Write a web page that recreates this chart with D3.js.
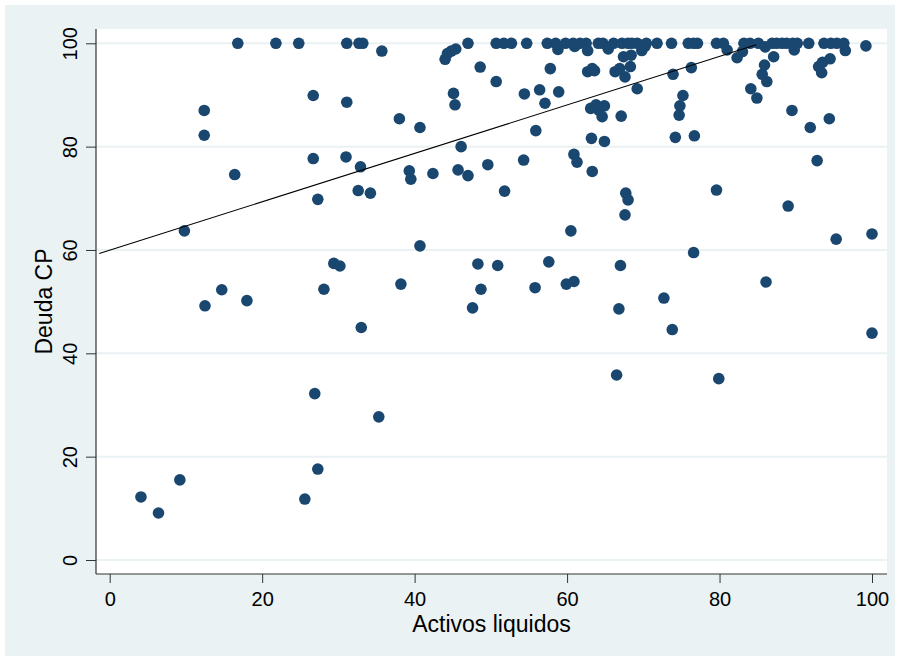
<!DOCTYPE html>
<html>
<head>
<meta charset="utf-8">
<script src="https://cdn.jsdelivr.net/npm/d3@7"></script>
<style>
  body { margin: 0; background: #ffffff; }
  text { font-family: "Liberation Sans", Arial, sans-serif; fill: #000; }
</style>
</head>
<body>
<div id="chart"></div>
<script>
// Activos liquidos (x) / Deuda CP (y)
var activos = [
      // y = 100 row
      16.8, 21.8, 24.8, 31.1, 32.7, 33.2, 47.0, 50.7, 51.7, 52.7, 54.7, 57.4, 58.5, 59.8, 60.8,
      61.7, 62.5, 64.1, 64.7, 66.1, 67.2, 68.0, 68.5, 69.2, 70.4, 71.8, 73.7, 75.9, 76.6, 77.1,
      79.6, 80.5, 83.2, 84.0, 85.1, 86.9, 87.5, 88.2, 88.8, 89.6, 90.2, 91.7, 93.7, 94.6, 95.4, 96.3,
      // just under the top
      35.7, 44.0, 44.3, 44.8, 45.4, 58.8, 61.0, 62.7, 65.4, 67.4, 68.4, 69.8, 70.2, 81.0, 82.3,
      83.0, 86.0, 87.1, 89.8, 96.5, 99.2,
      // upper middle
      48.6, 50.7, 57.8, 62.7, 63.3, 63.6, 66.3, 66.9, 67.6, 68.3, 69.2, 73.9, 76.3, 75.2, 74.8,
      74.7, 74.2, 76.7, 85.9, 85.6, 86.2, 84.1, 84.9, 89.5, 91.9, 94.4, 93.0, 93.5, 94.5, 93.4,
      92.8, 79.6, 89.0,
      // middle cluster
      45.1, 45.3, 54.4, 56.4, 57.1, 58.9, 55.9, 63.1, 63.8, 64.2, 64.6, 64.9, 67.1, 63.2, 64.9,
      46.1, 38.0, 40.7, 39.3, 39.5, 42.4, 45.7, 47.0, 49.6, 54.3, 51.8, 60.9, 61.3, 63.3, 67.7,
      68.0, 67.6,
      // left side
      26.7, 31.1, 12.4, 12.4, 26.7, 31.0, 32.9, 16.4, 27.3, 32.6, 34.2, 9.8, 29.4, 30.2, 14.7,
      12.5, 18.0, 28.1, 33.0, 26.9,
      // lower middle
      60.5, 40.7, 38.2, 48.3, 50.9, 57.6, 67.0, 48.7, 47.6, 55.8, 59.9, 60.9, 66.8, 66.5,
      // lower right
      95.3, 100, 76.6, 86.1, 72.7, 73.8, 100, 79.9,
      // bottom
      4.1, 6.4, 9.2, 25.6, 27.3, 35.3
];
var deuda = [
      100, 100, 100, 100, 100, 100, 100, 100, 100, 100, 100, 100, 100, 100, 100,
      100, 100, 100, 100, 100, 100, 100, 100, 100, 100, 100, 100, 100, 100, 100,
      100, 100, 100, 100, 100, 100, 100, 100, 100, 100, 100, 100, 100, 100, 100, 100,
      98.5, 96.9, 98.0, 98.5, 98.9, 98.8, 99.4, 98.6, 98.9, 97.4, 97.7, 98.6, 99.4, 98.7, 97.2,
      98.4, 99.3, 97.4, 98.7, 98.6, 99.5,
      95.4, 92.6, 95.1, 94.5, 95.1, 94.7, 94.5, 95.1, 93.5, 95.5, 91.2, 94.0, 95.3, 89.9, 87.9,
      86.1, 81.8, 82.1, 95.8, 94.0, 92.6, 91.2, 89.4, 87.0, 83.7, 85.4, 95.5, 96.3, 97.0, 94.3,
      77.3, 71.6, 68.5,
      90.3, 88.1, 90.2, 91.0, 88.4, 90.6, 83.1, 87.4, 88.1, 87.0, 85.8, 87.9, 85.9, 81.6, 81.0,
      80.0, 85.4, 83.7, 75.3, 73.7, 74.8, 75.5, 74.4, 76.5, 77.4, 71.4, 78.5, 77.0, 75.2, 71.0,
      69.7, 66.8,
      89.9, 88.6, 87.0, 82.2, 77.7, 78.0, 76.1, 74.6, 69.8, 71.5, 71.0, 63.7, 57.4, 56.9, 52.3,
      49.2, 50.2, 52.4, 45.0, 32.2,
      63.7, 60.8, 53.4, 57.3, 57.0, 57.7, 57.0, 52.4, 48.8, 52.7, 53.4, 53.9, 48.6, 35.8,
      62.1, 63.1, 59.5, 53.8, 50.7, 44.6, 43.9, 35.1,
      12.2, 9.1, 15.5, 11.8, 17.6, 27.7
];
// fitted line end points
var fitX = [-1.37, 84.8];
var fitY = [59.3, 99.7];
var xTicks = [0, 20, 40, 60, 80, 100];
var yTicks = [0, 20, 40, 60, 80, 100];

var W = 900, H = 660;
var plot = { left: 96, right: 887, top: 29, bottom: 574 };

var svg = d3.select("#chart")
      .append("svg")
      .attr("width", W)
      .attr("height", H);

// outer region
svg.append("rect")
      .attr("x", 5).attr("y", 5)
      .attr("width", W - 10).attr("height", H - 9)
      .attr("fill", "#eaf2f3");

svg.append("rect")
      .attr("x", plot.left).attr("y", plot.top)
      .attr("width", plot.right - plot.left).attr("height", plot.bottom - plot.top)
      .attr("fill", "#ffffff");

var xScale = d3.scaleLinear()
      .domain([0, 100])
      .range([109.7, 872]);
var yScale = d3.scaleLinear()
      .domain([0, 100])
      .range([560, 43.3]);

// grid lines
svg.selectAll("line.grid")
      .data(yTicks)
      .enter()
      .append("line")
      .attr("class", "grid")
      .attr("x1", plot.left)
      .attr("x2", plot.right)
      .attr("y1", function (d) { return yScale(d); })
      .attr("y2", function (d) { return yScale(d); })
      .attr("stroke", "#eaf2f3")
      .attr("stroke-width", 2);

// x axis
var xAxis = svg.append("g")
      .attr("transform", "translate(0," + plot.bottom + ")")
      .call(d3.axisBottom(xScale).tickValues(xTicks).tickSize(9).tickPadding(9).tickSizeOuter(0));
xAxis.select(".domain").remove();
xAxis.append("line")
      .attr("x1", plot.left).attr("x2", plot.right)
      .attr("stroke", "#333").attr("stroke-width", 1.2);
xAxis.selectAll(".tick line").attr("stroke", "#333");
xAxis.selectAll(".tick text")
      .attr("font-size", 20)
      .attr("font-family", "Liberation Sans, Arial, sans-serif")
      .attr("fill", "#000");

// y axis
var yAxis = svg.append("g")
      .attr("transform", "translate(" + plot.left + ",0)")
      .call(d3.axisLeft(yScale).tickValues(yTicks).tickSize(10).tickSizeOuter(0));
yAxis.select(".domain").remove();
yAxis.append("line")
      .attr("y1", plot.top).attr("y2", plot.bottom)
      .attr("stroke", "#333").attr("stroke-width", 1.2);
yAxis.selectAll(".tick line").attr("stroke", "#333");
yAxis.selectAll(".tick text")
      .attr("font-size", 20)
      .attr("font-family", "Liberation Sans, Arial, sans-serif")
      .attr("fill", "#000")
      .attr("x", null).attr("dy", null)
      .attr("text-anchor", "middle")
      .attr("transform", "translate(-19,0)rotate(-90)");

// axis titles
svg.append("text")
      .attr("x", (plot.left + plot.right) / 2)
      .attr("y", 632)
      .attr("text-anchor", "middle")
      .attr("font-size", 23)
      .text("Activos liquidos");

svg.append("text")
      .attr("transform", "translate(51.5," + (plot.top + plot.bottom) / 2 + ")rotate(-90)")
      .attr("text-anchor", "middle")
      .attr("font-size", 23)
      .text("Deuda CP");

var points = activos.map(function (a, i) { return { x: a, y: deuda[i] }; });

svg.selectAll("circle")
      .data(points)
      .enter()
      .append("circle")
      .attr("cx", function (d) { return xScale(d.x); })
      .attr("cy", function (d) { return yScale(d.y); })
      .attr("r", 5.8)
      .style("fill", "#1a476f");

// fitted line
svg.append("line")
      .attr("x1", xScale(fitX[0]))
      .attr("y1", yScale(fitY[0]))
      .attr("x2", xScale(fitX[1]))
      .attr("y2", yScale(fitY[1]))
      .attr("stroke", "#000")
      .attr("stroke-width", 1.1);
</script>
</body>
</html>
